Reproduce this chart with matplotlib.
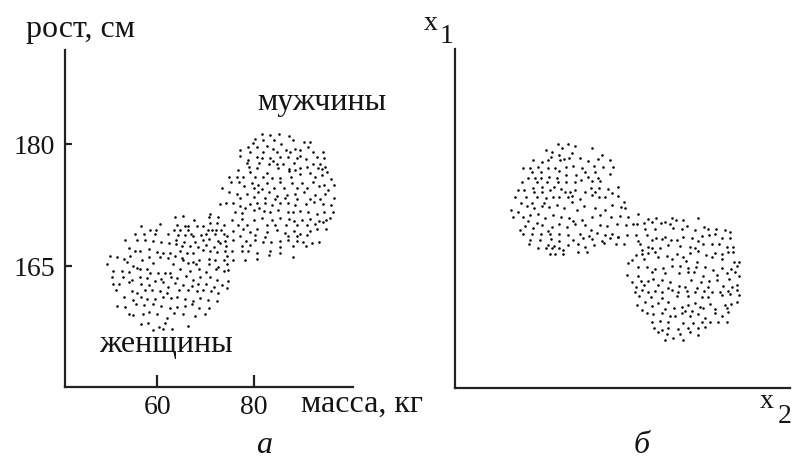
import numpy as np
import matplotlib
matplotlib.use('Agg')
import matplotlib.pyplot as plt

plt.rcParams['font.family'] = ['Liberation Serif', 'DejaVu Serif']

# ---------------- data ----------------
# panel "а": weight (kg) / height (cm)
women = [
    (70.9,171.4),(70.6,171.0),(72.6,171.0),(63.7,171.0),(65.3,171.2),(67.7,170.7),(70.9,170.3),(72.4,170.3),(73.7,170.1),
    (56.7,169.9),(60.5,170.2),(64.2,170.1),(65.8,169.9),(66.3,169.9),(68.2,169.9),(69.4,169.9),(58.6,169.4),(59.8,169.4),
    (63.4,169.4),(64.7,169.4),(66.3,169.4),(67.0,169.0),(70.4,169.4),(71.3,169.4),(72.2,169.4),(73.1,169.4),
    (55.5,168.9),(57.2,168.9),(59.6,168.9),(62.3,168.9),(64.4,168.8),(65.8,168.8),(67.3,168.7),(69.0,168.8),(70.1,169.0),
    (71.9,168.9),(73.7,168.9),(74.4,168.7),
    (53.4,168.2),(55.8,168.2),(57.5,168.2),(59.2,168.1),(60.9,167.9),(63.9,168.2),(65.6,167.9),(67.9,167.9),(69.5,168.2),
    (70.8,168.3),(72.6,168.1),(74.0,168.1),
    (62.5,167.8),(63.9,167.7),(65.1,167.5),(66.7,167.5),(68.4,167.4),(70.1,167.6),(71.7,167.3),(73.0,167.8),(74.2,167.5),
    (54.3,167.2),(55.5,166.8),(56.5,166.9),(58.4,167.1),(59.9,166.7),(61.3,166.6),(62.7,166.6),(64.7,166.8),(66.1,166.6),
    (67.5,166.6),(69.4,167.0),(70.9,166.9),(72.4,166.7),(74.0,166.8),
    (50.2,166.2),(51.8,166.1),(53.1,165.9),(54.4,166.2),(56.8,165.8),(58.4,166.1),(60.6,166.1),(62.3,166.0),(63.7,166.2),
    (65.1,166.0),(65.4,165.7),(67.3,165.5),(68.7,165.7),(70.6,165.9),(71.9,165.8),(73.7,165.8),(74.5,166.2),
    (49.6,165.3),(53.7,165.5),(55.1,165.0),(59.2,165.4),(63.2,165.3),(66.3,165.4),(68.0,165.3),(70.6,165.3),(72.6,164.9),(74.4,165.3),
    (51.0,164.4),(52.7,164.4),(54.3,164.3),(55.8,164.7),(56.4,164.6),(57.9,164.6),(58.6,164.2),(60.1,164.2),(61.6,164.2),
    (62.7,164.2),(64.7,164.6),(66.7,164.4),(68.7,164.6),(70.1,164.3),(72.2,164.6),(73.7,164.4),(74.7,164.5),
    (50.7,163.7),(52.9,163.7),(54.8,163.3),(56.4,163.7),(57.9,163.5),(59.6,163.2),(60.9,163.4),(62.8,163.7),(64.2,163.5),
    (66.0,163.8),(67.3,163.3),(68.9,163.7),(70.9,163.6),(72.4,163.3),(74.7,163.2),
    (51.0,162.8),(52.2,162.8),(54.1,163.0),(56.6,162.8),(58.4,162.7),(61.3,163.0),(62.3,162.4),(63.7,162.9),(65.4,162.7),
    (67.1,162.5),(68.5,162.8),(70.1,162.8),(71.8,162.4),(73.3,162.7),(74.4,162.3),
    (51.5,162.1),(54.8,161.9),(55.9,161.7),(57.5,162.1),(58.9,162.1),(60.5,161.9),(62.0,161.7),(64.6,162.1),(66.3,162.1),
    (68.2,161.9),(69.5,162.0),(71.1,161.9),(72.6,161.7),
    (53.1,161.2),(55.1,160.8),(56.6,161.2),(57.9,160.9),(59.6,160.9),(61.2,161.2),(62.9,161.0),(64.2,161.2),(65.8,160.9),
    (67.5,160.7),(68.9,161.0),(70.4,160.8),(72.3,160.7),
    (51.7,160.1),(53.4,160.0),(55.7,160.3),(57.2,160.2),(59.2,160.3),(60.8,160.1),(62.7,159.8),(64.2,160.0),(65.8,160.1),
    (67.1,160.3),(68.7,159.8),(70.8,159.8),
    (54.3,159.1),(55.1,159.0),(57.0,159.1),(58.4,159.3),(59.9,159.1),(62.0,158.6),(63.4,159.2),(65.4,159.1),(67.8,158.9),(69.9,159.1),
    (56.7,157.9),(58.2,158.0),(60.3,157.5),(61.6,158.0),(59.2,157.1),(61.3,157.3),(63.0,157.3),(66.3,157.6),
]

men = [
    (81.6,181.3),(83.2,181.1),(85.2,181.2),(87.3,181.0),
    (80.1,180.6),(81.9,180.5),(84.1,180.5),(88.1,180.5),(90.2,180.3),(91.5,180.3),(79.7,180.1),
    (78.8,179.7),(80.7,179.6),(82.6,179.8),(83.8,179.4),(85.5,180.0),(86.6,179.3),(88.4,179.4),(89.5,179.3),(91.2,179.6),
    (94.3,179.1),(77.0,179.3),(79.2,179.1),(81.8,179.1),(84.8,179.1),(87.4,179.1),(92.2,179.1),
    (77.1,178.6),(80.5,178.4),(81.6,178.3),(83.3,178.3),(85.4,178.4),(86.9,178.4),(88.8,178.3),(89.5,178.6),(90.7,178.2),
    (92.9,178.4),(94.4,178.3),(78.8,178.0),(84.0,177.9),
    (78.6,177.7),(81.1,177.7),(83.0,177.5),(84.8,177.5),(85.9,177.6),(88.2,177.7),(92.2,177.5),(93.6,177.6),(94.6,177.2),
    (79.0,177.2),(80.7,177.1),(85.0,177.1),(87.3,177.0),(89.5,177.1),(90.9,177.2),(93.1,177.1),(94.0,176.9),
    (76.6,176.8),(79.2,176.6),(82.6,176.5),(87.3,176.7),(88.5,176.8),(89.5,176.3),(91.5,176.4),(94.0,176.2),(74.9,176.0),
    (76.4,176.0),(77.7,175.9),(80.2,175.9),(81.9,176.0),(83.6,175.8),(85.4,175.8),(87.6,176.0),(92.6,175.9),(95.8,175.7),(95.0,176.6),
    (75.2,175.4),(76.8,175.3),(79.5,175.2),(80.9,175.0),(82.6,175.2),(85.4,175.3),(87.8,175.2),(89.8,175.2),(92.2,175.3),
    (94.4,175.0),(96.4,175.0),(73.3,174.6),(78.0,174.8),(79.9,174.6),(81.6,174.5),(84.1,174.6),(86.1,174.6),(88.9,174.6),
    (91.0,174.6),(93.3,174.8),(95.3,174.3),
    (74.9,174.1),(76.4,173.9),(78.5,173.9),(80.9,174.1),(83.0,174.1),(84.7,173.6),(86.7,173.8),(88.5,173.9),(90.2,174.1),
    (92.6,173.7),(94.6,173.9),(96.4,173.4),(77.1,173.4),(79.9,173.5),(82.3,173.4),(84.3,173.2),(86.4,173.4),(88.8,173.2),
    (91.5,173.2),(93.6,173.2),
    (73.0,172.6),(74.2,172.8),(75.6,172.8),(77.1,172.4),(79.2,172.6),(80.7,172.7),(82.3,172.8),(83.6,172.5),(85.4,172.8),
    (86.9,172.7),(88.5,172.5),(90.7,172.6),(92.4,172.9),(94.3,172.6),(95.8,172.5),(78.1,172.2),(81.1,172.2),
    (76.1,171.6),(77.5,171.5),(80.0,171.9),(82.1,171.8),(83.3,171.6),(85.0,171.9),(86.9,171.6),(88.0,171.6),(89.5,171.8),
    (91.2,171.6),(92.9,171.4),(94.4,171.6),(96.2,171.6),
    (75.4,170.7),(77.5,170.8),(79.9,170.7),(81.6,170.9),(83.6,170.7),(85.4,170.9),(87.1,170.8),(88.2,170.5),(89.8,170.7),
    (91.5,170.8),(93.3,170.5),(94.8,170.7),(95.7,170.9),(76.6,170.0),(78.5,170.0),(82.6,170.1),(84.3,170.1),(86.6,170.0),
    (88.8,170.1),(90.9,170.0),(92.6,170.2),(94.2,170.4),
    (75.7,169.3),(77.7,169.5),(79.2,169.2),(80.7,169.5),(82.6,169.2),(84.7,169.4),(86.4,169.1),(88.2,169.3),(89.5,169.0),
    (91.5,169.3),(92.9,169.5),(94.8,169.5),(77.1,168.7),(80.2,168.8),(82.3,168.6),(86.9,168.7),(88.8,168.7),(91.0,168.8),
    (75.7,168.2),(78.4,168.1),(80.2,168.2),(81.8,167.9),(83.4,168.0),(85.4,168.1),(86.9,168.2),(88.8,168.1),(90.0,167.9),
    (91.9,167.8),(93.3,167.9),(77.5,167.5),(79.2,167.6),(85.4,167.4),(88.1,167.5),(90.7,167.5),
    (75.4,166.8),(77.5,166.8),(78.8,166.8),(80.7,166.6),(83.3,166.8),(85.4,166.6),(88.1,166.1),(80.5,165.9),(83.0,166.3),
    (78.1,165.7),(75.7,165.7),
]

# panel "б": features x2 (horizontal) / x1 (vertical), arbitrary units 0..100
cluster_upper = [
    (30.7,72.1),(33.6,72.0),(32.0,70.7),(35.8,71.4),(27.1,70.2),(28.9,69.7),(40.8,70.7),
    (30.9,68.7),(34.8,69.2),(28.7,68.2),(32.6,67.5),(34.0,67.7),(37.3,67.7),(23.4,67.3),(25.9,66.8),(27.7,67.3),(31.3,67.3),
    (39.6,67.0),(42.6,67.5),(43.8,68.7),(46.3,67.3),
    (20.4,64.8),(22.4,64.8),(24.7,65.3),(27.7,64.8),(29.9,64.8),(33.0,65.3),(35.3,65.6),(37.8,64.8),(41.6,65.6),(44.3,65.3),
    (47.3,65.3),(22.9,63.6),(25.7,63.8),(30.9,64.0),(38.8,63.8),(41.8,63.6),
    (19.9,60.7),(21.7,61.8),(23.9,61.8),(25.7,62.0),(28.1,62.3),(30.4,61.8),(33.1,62.8),(36.0,62.8),(37.6,61.4),(39.8,62.3),
    (42.6,62.0),(46.3,63.0),(24.4,60.9),(27.4,60.7),(30.7,60.7),(33.1,60.9),(35.8,60.9),(40.8,61.1),(43.3,61.1),
    (18.9,58.4),(20.7,58.4),(23.4,58.9),(25.9,59.4),(28.4,58.4),(29.7,59.4),(31.6,58.7),(34.3,57.7),(35.8,58.4),(38.8,57.9),
    (40.6,58.9),(43.0,59.1),(45.6,58.7),(48.8,59.4),(23.7,57.9),(26.1,57.7),(32.8,57.7),(41.8,57.9),(46.8,57.4),
    (17.9,56.2),(21.1,56.2),(24.4,56.4),(27.1,56.0),(29.4,56.4),(31.0,56.2),(33.6,56.4),(35.0,56.7),(37.3,55.8),(41.0,56.9),
    (43.0,56.2),(44.8,56.2),(48.8,56.7),(50.3,55.0),(26.7,54.5),(19.7,54.5),(22.9,54.5),
    (21.4,53.8),(23.7,53.0),(25.9,53.8),(28.1,53.5),(30.4,54.0),(32.6,53.0),(34.8,54.8),(36.3,52.5),(38.6,53.8),(41.8,53.2),
    (44.8,52.5),(47.0,54.0),(49.6,53.5),(50.8,53.0),(16.7,52.5),(18.9,52.0),
    (20.4,50.5),(22.4,51.0),(24.7,51.2),(26.9,50.1),(29.4,51.0),(31.6,50.5),(34.0,50.1),(35.3,49.3),(38.0,49.6),(41.0,50.3),
    (43.3,51.0),(46.6,50.5),(49.3,50.8),(51.7,50.5),(17.4,50.3),(21.7,49.3),(24.4,48.6),
    (20.9,47.9),(23.4,47.3),(26.1,48.1),(28.9,47.6),(31.0,48.3),(33.3,47.6),(35.8,48.3),(38.8,48.1),(40.6,46.6),(43.3,48.1),
    (45.3,47.9),(48.3,48.3),(50.9,48.1),(53.2,48.3),(19.4,46.6),(27.9,46.3),
    (20.4,45.3),(22.9,45.3),(25.7,45.3),(28.4,45.3),(30.9,45.3),(33.6,45.1),(37.3,45.3),(40.0,44.9),(42.3,45.6),(44.8,45.1),
    (46.8,45.3),(48.8,44.6),(51.2,45.1),(22.4,43.7),(25.4,43.7),(28.7,44.0),(31.0,43.4),(35.3,43.7),(38.3,44.2),(41.0,44.0),
    (44.0,43.4),(46.3,44.2),(48.6,44.4),
    (22.1,42.4),(27.9,42.2),(29.7,42.0),(33.8,42.2),(36.6,42.4),(38.8,41.7),(41.6,42.2),(44.6,42.7),(48.0,42.4),(50.3,42.4),
    (24.7,41.2),(27.1,41.2),(29.1,41.2),(30.9,41.4),(32.3,40.7),(36.6,40.0),(39.3,40.0),(28.4,39.4),(29.9,39.4),(32.3,39.4),
]

cluster_lower = [
    (54.5,51.2),(57.7,49.9),(59.9,50.0),(64.7,50.0),(66.0,49.6),(68.2,49.6),(72.4,50.0),
    (54.2,48.3),(56.5,48.6),(58.7,48.9),(61.5,48.6),(62.7,49.1),(64.2,48.3),(65.2,47.3),(69.2,47.9),(71.6,46.6),(74.4,47.6),
    (75.4,46.9),(77.8,46.9),(80.6,46.6),(82.1,46.1),(67.9,46.9),(59.7,46.9),(56.7,46.9),
    (53.9,45.1),(57.2,45.1),(59.9,44.3),(62.7,44.6),(64.5,43.7),(66.3,43.7),(68.2,44.6),(70.8,44.3),(73.8,44.9),(75.8,45.1),
    (77.6,45.3),(79.6,44.3),(82.1,44.3),(54.7,43.4),(58.9,43.7),(61.7,44.0),(72.6,43.4),
    (55.2,42.4),(57.7,41.7),(58.7,41.2),(61.2,41.4),(63.7,42.2),(67.2,42.0),(70.2,41.7),(71.6,41.2),(74.1,42.4),(76.6,42.4),
    (78.8,42.4),(81.1,41.7),(83.1,41.7),(55.7,40.7),
    (53.9,39.2),(55.7,39.4),(57.7,39.7),(59.7,40.2),(63.2,39.0),(66.2,39.4),(68.2,38.7),(70.2,39.7),(72.6,40.4),(74.8,39.2),
    (77.6,39.7),(79.8,39.4),(81.6,40.0),(83.1,40.2),(52.7,37.8),(56.5,38.1),(60.7,38.5),(64.7,38.1),(68.9,37.5),(72.1,37.1),
    (76.6,38.5),(79.6,38.1),(83.4,37.1),(84.8,37.1),
    (51.7,36.8),(54.7,35.8),(57.2,35.8),(59.7,35.1),(62.2,35.5),(64.7,36.1),(67.2,36.1),(69.5,35.3),(71.8,35.8),(74.6,35.8),
    (77.1,34.8),(79.8,35.5),(82.4,35.1),(84.1,36.1),(58.7,34.3),(51.2,33.3),(54.7,33.1),(62.7,33.8),(66.9,33.8),(69.7,34.1),
    (71.4,34.1),(74.1,33.1),(78.1,33.3),(81.1,33.8),(83.6,34.3),(84.8,32.9),
    (52.9,31.2),(55.5,31.6),(57.5,31.6),(59.2,32.2),(61.7,31.9),(64.2,31.4),(66.9,30.2),(70.4,31.9),(73.4,31.2),(75.8,31.6),
    (78.1,31.9),(81.8,32.2),(84.1,30.4),(53.9,29.9),(56.5,30.4),(60.5,30.4),(63.7,29.6),(68.7,29.9),(72.1,29.6),(75.4,29.9),
    (80.1,30.2),(82.6,29.9),
    (53.7,28.2),(55.7,28.9),(57.7,28.2),(59.7,28.6),(61.9,28.2),(64.7,28.9),(66.7,28.2),(69.2,28.6),(71.6,28.2),(74.4,28.6),
    (76.6,28.2),(79.1,28.2),(81.6,28.6),(84.1,28.9),(54.9,27.2),(58.5,26.9),(61.7,26.5),(66.2,27.2),(69.7,27.2),(73.6,26.7),
    (75.6,26.9),(79.6,27.4),(82.1,27.6),(84.8,27.4),
    (54.2,24.5),(56.7,25.3),(58.9,24.3),(60.7,25.0),(63.7,25.3),(65.5,23.7),(67.9,24.0),(69.5,24.5),(71.6,25.0),(73.1,24.0),
    (76.1,24.7),(77.6,23.3),(80.6,24.5),(82.4,24.7),(84.1,25.3),(55.7,23.0),(62.7,23.3),(68.7,22.7),(70.8,22.7),(74.1,23.5),
    (81.1,23.5),
    (57.2,22.0),(59.2,21.7),(61.7,22.0),(64.2,21.3),(65.7,21.1),(67.7,22.0),(70.2,21.1),(72.6,21.7),(74.6,20.6),(77.6,22.0),
    (79.6,21.3),(81.6,22.3),(58.7,19.6),(61.2,19.8),(63.7,19.4),(68.2,19.1),(71.1,19.1),(73.6,19.6),(76.1,19.4),(78.6,19.4),
    (81.1,19.6),
    (59.5,17.8),(61.7,17.1),(63.7,17.6),(66.5,17.4),(69.7,17.6),(72.6,17.8),(74.6,18.1),(60.7,16.4),(63.2,15.8),(67.2,15.8),
    (70.2,16.6),(72.4,15.6),(62.7,14.2),(65.2,14.7),(68.2,14.2),
]

x_ticks = [60, 80]
y_ticks = [165, 180]
x_label_a = 'масса, кг'
y_label_a = 'рост, см'
group_labels = ['женщины', 'мужчины']
panel_labels = ['а', 'б']

# ---------------- figure ----------------
W, H = 795, 461
fig = plt.figure(figsize=(W / 100, H / 100), dpi=100)

def fx(px):
    return px / W

def fy(py):
    return 1 - py / H

TXT = '#141414'
FS = 23        # word labels
FS_T = 20      # tick numbers / indices
LW = 1.6
DOT = 3.4

def style(ax):
    for s in ('top', 'right'):
        ax.spines[s].set_visible(False)
    for s in ('left', 'bottom'):
        ax.spines[s].set_linewidth(LW)
        ax.spines[s].set_color('#222222')
    ax.patch.set_alpha(0)

# panel а
axA = fig.add_axes([fx(65), fy(387), fx(353) - fx(65), fy(50) - fy(387)])
style(axA)
axA.set_xlim(41.0, 100.4)
axA.set_ylim(150.1, 191.6)
w = np.array(women)
m = np.array(men)
axA.scatter(w[:, 0], w[:, 1], s=DOT, c='black', linewidths=0, marker='o')
axA.scatter(m[:, 0], m[:, 1], s=DOT, c='black', linewidths=0, marker='o')
axA.set_xticks(x_ticks)
axA.set_yticks(y_ticks)
axA.tick_params(axis='x', direction='in', length=9, width=LW, color='#222222',
                labelsize=FS_T, labelcolor=TXT, pad=6)
axA.tick_params(axis='y', direction='in', length=5, width=LW, color='#222222',
                labelsize=FS_T, labelcolor=TXT, pad=7)

fig.text(fx(26), fy(37), y_label_a, fontsize=FS, color=TXT, ha='left', va='baseline')
fig.text(fx(301), fy(412), x_label_a, fontsize=FS, color=TXT, ha='left', va='baseline')
fig.text(fx(322), fy(110), group_labels[1], fontsize=FS, color=TXT, ha='center', va='baseline')
fig.text(fx(166), fy(352), group_labels[0], fontsize=FS, color=TXT, ha='center', va='baseline')
fig.text(fx(264), fy(453), panel_labels[0], fontsize=FS, color=TXT, ha='center', va='baseline', style='italic')

# panel б
axB = fig.add_axes([fx(455), fy(388), fx(790) - fx(455), fy(49) - fy(388)])
style(axB)
axB.set_xlim(0, 100)
axB.set_ylim(0, 100)
u = np.array(cluster_upper)
l = np.array(cluster_lower)
axB.scatter(u[:, 0], u[:, 1], s=DOT, c='black', linewidths=0, marker='o')
axB.scatter(l[:, 0], l[:, 1], s=DOT, c='black', linewidths=0, marker='o')
axB.set_xticks([])
axB.set_yticks([])

fig.text(fx(431), fy(30), 'x', fontsize=FS_T, color=TXT, ha='center', va='baseline')
fig.text(fx(447), fy(43), '1', fontsize=FS_T, color=TXT, ha='center', va='baseline')
fig.text(fx(767), fy(408), 'x', fontsize=FS_T, color=TXT, ha='center', va='baseline')
fig.text(fx(785), fy(423), '2', fontsize=FS_T, color=TXT, ha='center', va='baseline')
fig.text(fx(642), fy(453), panel_labels[1], fontsize=FS, color=TXT, ha='center', va='baseline', style='italic')

fig.savefig('out.png', dpi=100, facecolor='white')
